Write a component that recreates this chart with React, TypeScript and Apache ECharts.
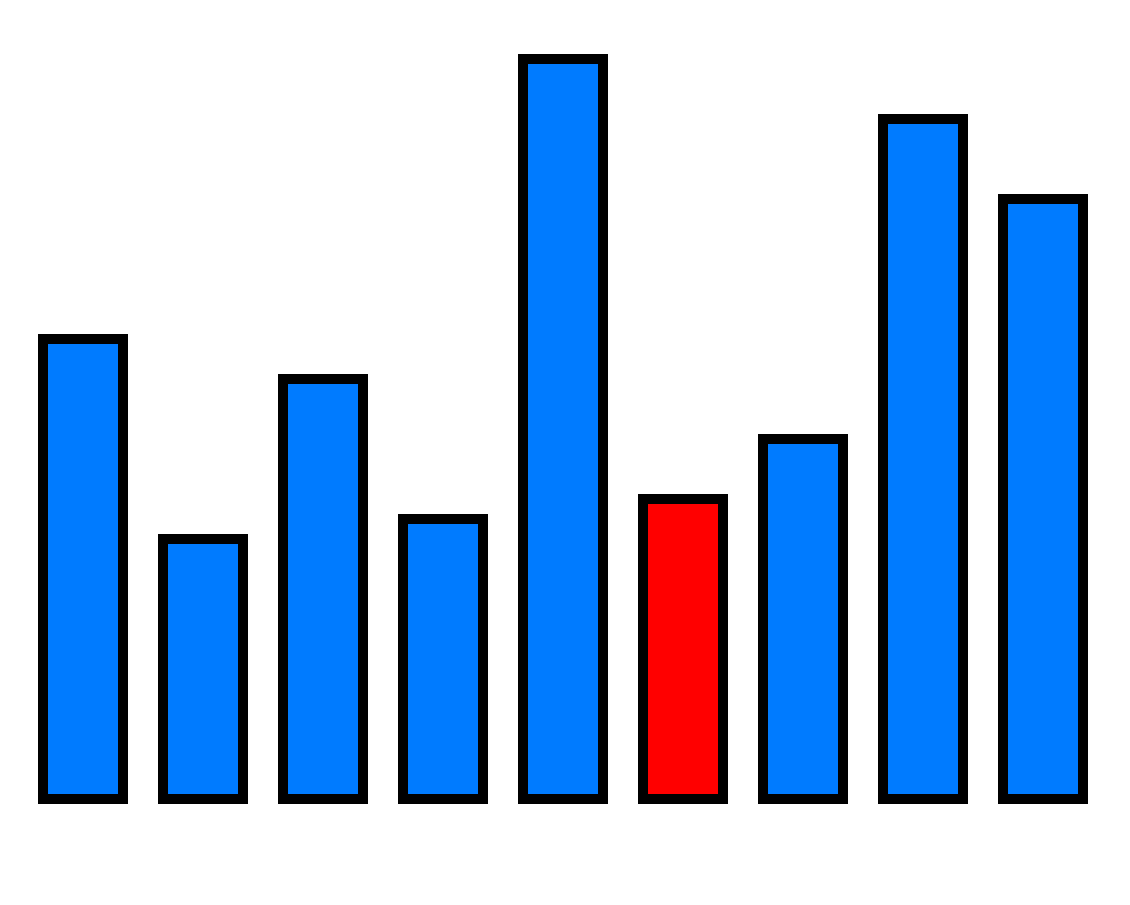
import React, { useEffect, useRef } from 'react';
import * as echarts from 'echarts';

// 类目与数值
const categories = ['A', 'B', 'C', 'D', 'E', 'F', 'G', 'H', 'I'];
const values = [23, 13, 21, 14, 37, 15, 18, 34, 30];
// 高亮的柱子
const highlightIndex = 5;

const App: React.FC = () => {
  const chartRef = useRef<HTMLDivElement>(null);

  useEffect(() => {
    if (!chartRef.current) return;
    const chart = echarts.init(chartRef.current, null, { renderer: 'svg' });

    const option = {
      animation: false,
      grid: { left: 23, right: 27, top: 59, bottom: 106 },
      xAxis: {
        type: 'category',
        data: categories,
        show: false
      },
      yAxis: {
        type: 'value',
        min: 0,
        max: 37,
        show: false
      },
      series: [
        {
          // 用自定义系列画柱子，让描边居中在柱子边缘上（普通 bar 会把描边内缩）
          type: 'custom',
          data: values.map((v, i) => [i, v]),
          renderItem: (params: any, api: any) => {
            const idx = api.value(0);
            const top = api.coord([idx, api.value(1)]);
            const base = api.coord([idx, 0]);
            const bandWidth = api.size([1, 0])[0];
            const w = bandWidth * 2 / 3;
            return {
              type: 'rect',
              shape: { x: top[0] - w / 2, y: top[1], width: w, height: base[1] - top[1] },
              style: {
                fill: params.dataIndex === highlightIndex ? '#ff0000' : '#007bff',
                stroke: '#000',
                lineWidth: 10
              }
            };
          }
        }
      ]
    };

    chart.setOption(option);

    return () => {
      chart.dispose();
    };
  }, []);

  return (
    <div
      ref={chartRef}
      style={{ position: 'fixed', left: 0, top: 0, width: 1130, height: 905, background: '#fff' }}
    />
  );
};

export default App;
